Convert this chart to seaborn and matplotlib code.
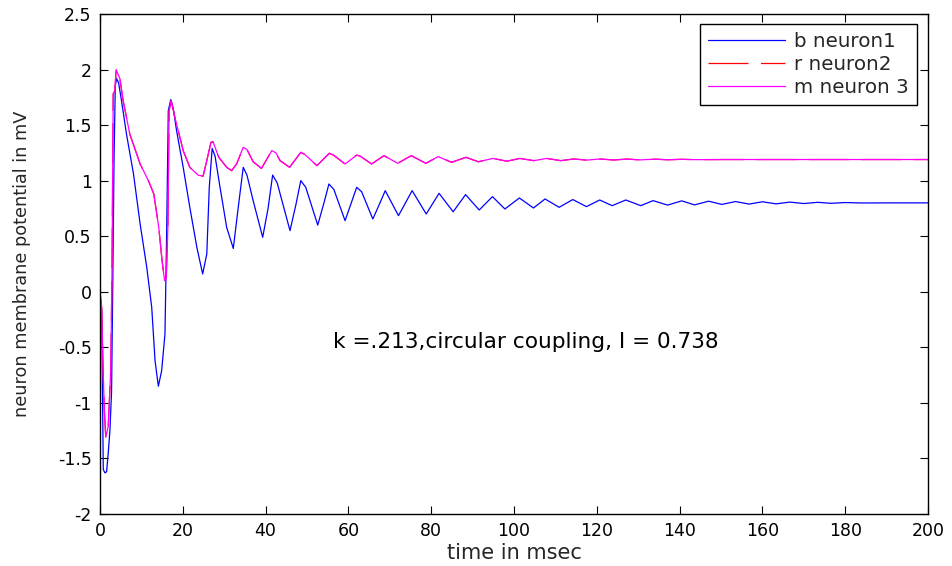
import matplotlib
matplotlib.use("Agg")
import matplotlib.pyplot as plt
import seaborn as sns
import pandas as pd

# ---- data ----
neuron1_t = [0, 0.4, 0.8, 1.2, 1.6, 2.0, 2.4, 2.8, 3.1, 3.4,
             3.7, 4.0, 4.5, 5.2, 6.4, 8.1, 9.7, 11.3, 12.5, 13.3,
             14.1, 14.9, 15.7, 16.1, 16.5, 17.1, 17.7, 18.5, 20.1, 21.7,
             23.4, 24.8, 25.8, 26.4, 27.1, 27.8, 29.0, 30.6, 32.2, 33.4,
             34.6, 35.5, 37.0, 39.3, 40.6, 41.7, 42.8, 45.9, 47.3, 48.5,
             49.7, 52.6, 54.1, 55.3, 56.5, 59.2, 60.7, 62.0, 63.2, 65.9,
             67.4, 68.9, 72.1, 75.4, 78.8, 81.9, 85.3, 88.3, 91.6, 94.8,
             97.8, 101.3, 104.7, 107.5, 110.9, 114.2, 117.5, 120.7, 123.7, 127.0,
             130.6, 133.6, 137.1, 140.5, 143.6, 147.0, 150.2, 153.5, 156.8, 160.0,
             163.3, 166.6, 170.0, 173.3, 176.6, 180.0, 184.0, 190.0, 200.0]
neuron1_v = [-0.14, -0.15, -1.60, -1.63, -1.62, -1.45, -1.25, -0.90, 0.10, 1.20,
             1.85, 1.92, 1.88, 1.72, 1.42, 1.06, 0.61, 0.22, -0.14, -0.62,
             -0.85, -0.71, -0.38, 0.52, 1.63, 1.73, 1.65, 1.45, 1.12, 0.76,
             0.40, 0.16, 0.34, 0.94, 1.29, 1.22, 0.94, 0.58, 0.39, 0.76,
             1.12, 1.05, 0.82, 0.49, 0.75, 1.05, 0.98, 0.55, 0.78, 1.00,
             0.94, 0.60, 0.80, 0.97, 0.92, 0.64, 0.80, 0.94, 0.90, 0.655,
             0.78, 0.91, 0.685, 0.91, 0.70, 0.886, 0.72, 0.874, 0.736, 0.856,
             0.745, 0.844, 0.754, 0.835, 0.76, 0.83, 0.766, 0.826, 0.775, 0.826,
             0.775, 0.82, 0.78, 0.818, 0.782, 0.815, 0.786, 0.812, 0.789, 0.81,
             0.791, 0.807, 0.794, 0.805, 0.796, 0.803, 0.799, 0.80, 0.80]

neuron3_t = [0, 0.4, 0.8, 1.1, 1.4, 2.0, 2.6, 2.9, 3.2, 3.6,
             3.9, 4.8, 5.6, 7.2, 9.7, 11.7, 13.0, 14.2, 15.0, 15.6,
             16.0, 16.4, 16.7, 17.2, 18.1, 20.1, 21.7, 23.7, 24.9, 25.8,
             26.8, 27.3, 28.7, 30.6, 31.8, 33.0, 34.6, 35.5, 37.0, 39.0,
             41.5, 42.5, 43.5, 45.8, 48.5, 49.5, 52.4, 55.4, 56.4, 59.2,
             62.0, 62.9, 65.6, 68.6, 71.9, 75.2, 78.7, 81.7, 84.9, 88.4,
             91.4, 94.9, 98.3, 101.4, 104.8, 107.9, 111.3, 114.4, 117.6, 120.8,
             124.0, 127.3, 130.5, 134.0, 137.2, 140.5, 144.0, 150.0, 200.0]
neuron3_v = [0.0, -0.14, -0.77, -1.10, -1.31, -1.21, -0.71, 0.16, 1.78, 1.81,
             2.0, 1.92, 1.72, 1.42, 1.15, 1.0, 0.88, 0.58, 0.28, 0.10,
             0.12, 0.58, 1.63, 1.72, 1.57, 1.27, 1.12, 1.05, 1.04, 1.18,
             1.345, 1.35, 1.21, 1.12, 1.09, 1.15, 1.30, 1.28, 1.17, 1.11,
             1.27, 1.25, 1.18, 1.12, 1.255, 1.235, 1.135, 1.246, 1.23, 1.15,
             1.23, 1.22, 1.15, 1.225, 1.156, 1.225, 1.156, 1.216, 1.165, 1.21,
             1.17, 1.20, 1.175, 1.20, 1.18, 1.20, 1.18, 1.195, 1.185, 1.195,
             1.186, 1.194, 1.187, 1.193, 1.188, 1.192, 1.189, 1.19, 1.19]

# neuron2 overlaps neuron3 in the reference
neuron2_t = list(neuron3_t)
neuron2_v = list(neuron3_v)

legend_labels = ["b neuron1", "r neuron2", "m neuron 3"]
x_ticks = [0, 20, 40, 60, 80, 100, 120, 140, 160, 180, 200]
y_ticks = [-2, -1.5, -1, -0.5, 0, 0.5, 1, 1.5, 2, 2.5]
y_ticklabels = ["-2", "-1.5", "-1", "-0.5", "0", "0.5", "1", "1.5", "2", "2.5"]
annotation = "k =.213,circular coupling, I = 0.738"

assert len(neuron1_t) == len(neuron1_v)
assert len(neuron3_t) == len(neuron3_v)

# ---- style ----
sns.set_style("white")
plt.rcParams["font.family"] = ["DejaVu Sans"]

fig = plt.figure(figsize=(9.53, 5.66), dpi=100)
ax = fig.add_axes([0.1049, 0.0919, 0.8689, 0.8834])

df1 = pd.DataFrame({"t": neuron1_t, "v": neuron1_v})
df2 = pd.DataFrame({"t": neuron2_t, "v": neuron2_v})
df3 = pd.DataFrame({"t": neuron3_t, "v": neuron3_v})

sns.lineplot(data=df1, x="t", y="v", sort=False, estimator=None,
             color="#0000ff", lw=0.9, label=legend_labels[0], ax=ax)
sns.lineplot(data=df2, x="t", y="v", sort=False, estimator=None,
             color="#ff0000", lw=0.9, label=legend_labels[1], ax=ax)
sns.lineplot(data=df3, x="t", y="v", sort=False, estimator=None,
             color="#ff00ff", lw=0.9, label=legend_labels[2], ax=ax)
ax.lines[1].set_dashes([32, 10])

ax.set_xlim(0, 200)
ax.set_ylim(-2, 2.5)
ax.set_xticks(x_ticks)
ax.set_xticklabels([str(v) for v in x_ticks])
ax.set_yticks(y_ticks)
ax.set_yticklabels(y_ticklabels)

for s in ax.spines.values():
    s.set_visible(True)
    s.set_color("black")
    s.set_linewidth(1.0)

ax.tick_params(axis="both", which="both", direction="in", length=6, width=0.8,
               top=True, right=True, bottom=True, left=True,
               labelsize=12.5, colors="black", pad=6)

ax.set_xlabel("time in msec", fontsize=15, labelpad=2)
ax.set_ylabel("neuron membrane potential in mV", fontsize=12.7)
ax.yaxis.set_label_coords(-0.083, 0.5)

ax.text(56.3, -0.507, annotation, fontsize=15.6, ha="left", va="baseline",
        color="black")

leg = ax.legend(loc="upper right", bbox_to_anchor=(0.9867, 0.98),
                borderaxespad=0, fontsize=14.3, handlelength=3.9,
                handletextpad=0.45, labelspacing=0.2, borderpad=0.4,
                fancybox=False, framealpha=1, edgecolor="black")
leg.get_frame().set_linewidth(1.0)

fig.savefig("out.png", dpi=100)
